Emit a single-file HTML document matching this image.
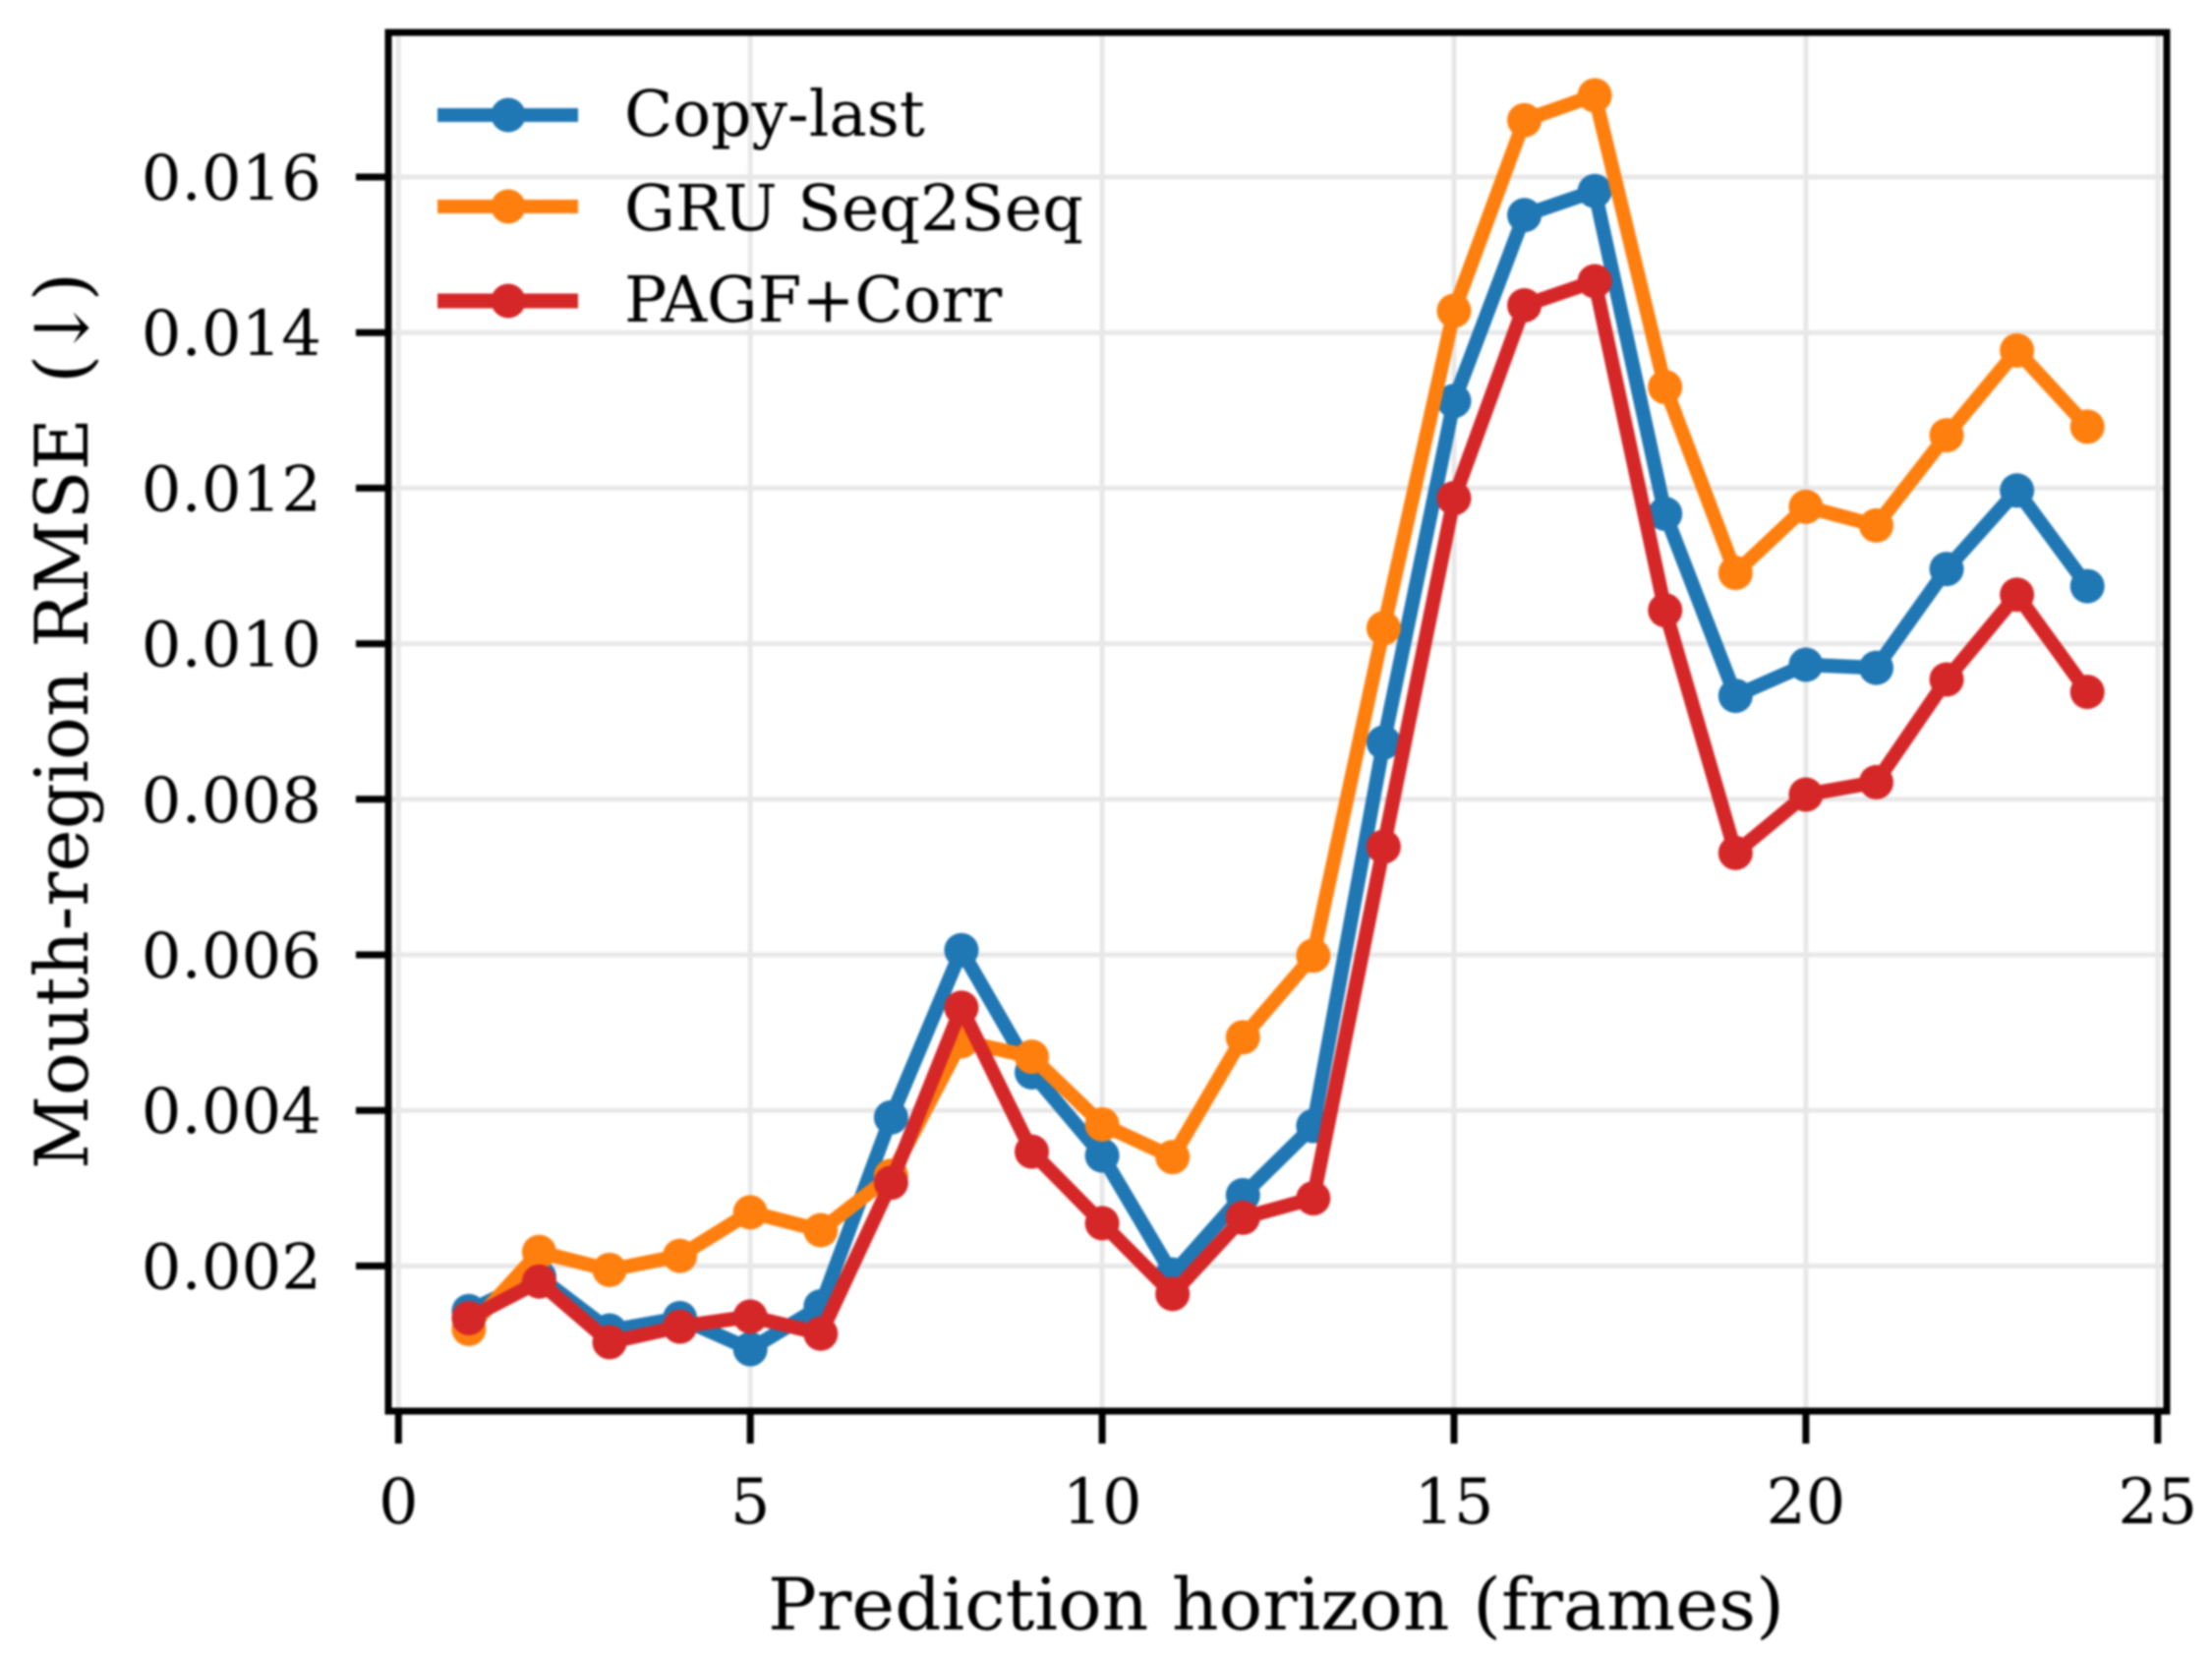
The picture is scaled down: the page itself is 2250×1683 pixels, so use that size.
<!DOCTYPE html>
<html lang="en">
<head>
<meta charset="utf-8">
<title>Mouth-region RMSE by prediction horizon</title>
<style>
html,body{margin:0;padding:0;background:#fff;width:2250px;height:1683px;overflow:hidden}
svg{display:block;filter:blur(1px)}
text{font-family:"DejaVu Serif","Liberation Serif",serif;fill:#000}
</style>
</head>
<body>
<svg id="chart" xmlns="http://www.w3.org/2000/svg" width="2250" height="1683" viewBox="0 0 2250 1683">
  <rect x="0" y="0" width="2250" height="1683" fill="#ffffff"/>
  <g id="grid"></g>
  <g id="series"></g>
  <rect x="395" y="33" width="1809" height="1402" fill="none" stroke="#000" stroke-width="7"/>
  <g id="ticks"></g>
  <text x="1298" y="1657" font-size="73" text-anchor="middle" textLength="1034" lengthAdjust="spacingAndGlyphs">Prediction horizon (frames)</text>
  <text transform="translate(89,1189) rotate(-90)" font-size="75" textLength="764" lengthAdjust="spacingAndGlyphs">Mouth-region RMSE</text>
  <text transform="translate(89,390) rotate(-90)" font-size="75" textLength="113" lengthAdjust="spacing">(↓)</text>
  <g id="legend">
    <g>
      <line x1="445" y1="117" x2="588" y2="117" stroke="#1f77b4" stroke-width="14"/>
      <circle cx="517" cy="117" r="17.5" fill="#1f77b4"/>
      <text x="635" y="138" font-size="64.5">Copy-last</text>
    </g>
    <g>
      <line x1="445" y1="210" x2="588" y2="210" stroke="#ff7f0e" stroke-width="14"/>
      <circle cx="517" cy="210" r="17.5" fill="#ff7f0e"/>
      <text x="635" y="234" font-size="65">GRU Seq2Seq</text>
    </g>
    <g>
      <line x1="445" y1="306" x2="588" y2="306" stroke="#d62728" stroke-width="15"/>
      <circle cx="517" cy="306" r="17.5" fill="#d62728"/>
      <text x="635" y="327" font-size="64.5">PAGF+Corr</text>
    </g>
  </g>
</svg>
<script>
const horizons = [1,2,3,4,5,6,7,8,9,10,11,12,13,14,15,16,17,18,19,20,21,22,23,24];
const copyLast = [0.00142,0.00186,0.00117,0.00133,0.00093,0.00148,0.00391,0.00606,0.00449,0.00342,0.00189,0.00291,0.0038,0.00873,0.01312,0.01551,0.01582,0.01167,0.00933,0.00973,0.00969,0.01096,0.01197,0.01074];
const gruSeq2Seq = [0.00119,0.00218,0.00195,0.00213,0.00269,0.00246,0.00316,0.00489,0.00469,0.00382,0.0034,0.00494,0.00599,0.0102,0.01428,0.01673,0.01705,0.0133,0.01091,0.01176,0.01152,0.01268,0.01377,0.01279];
const pagfCorr = [0.00133,0.0018,0.00102,0.00122,0.00135,0.00113,0.00307,0.00532,0.00347,0.00255,0.00164,0.00262,0.00287,0.00739,0.01187,0.01435,0.01466,0.01043,0.00731,0.00806,0.00822,0.00954,0.01063,0.00938];
const xTicks = [0,5,10,15,20,25];
const yTicks = [0.002,0.004,0.006,0.008,0.01,0.012,0.014,0.016];
const yTickLabels = ["0.002","0.004","0.006","0.008","0.010","0.012","0.014","0.016"];

const NS = "http://www.w3.org/2000/svg";
function xScale(v){ return 405.3 + v * 71.58; }
function yScale(v){ return 180 + (0.016 - v) / 0.002 * 158.2; }
function make(tag, attrs, parent){
  const el = document.createElementNS(NS, tag);
  for (const k in attrs) el.setAttribute(k, attrs[k]);
  parent.appendChild(el);
  return el;
}
const gridG = document.getElementById("grid");
const tickG = document.getElementById("ticks");
const seriesG = document.getElementById("series");

xTicks.forEach(function(t){
  const px = xScale(t);
  const g = make("line", {x1:px, y1:33, x2:px, y2:1435, stroke:"#e8e8e8", "stroke-width":5}, gridG);
  
  
  const m = make("line", {x1:px, y1:1435, x2:px, y2:1468, stroke:"#000", "stroke-width":7}, tickG);
  
  
  const l = make("text", {x:px, y:1549, "font-size":63.5, "text-anchor":"middle"}, tickG);
  l.textContent = String(t);
  
  
});
yTicks.forEach(function(t, i){
  const py = yScale(t);
  const g = make("line", {x1:395, y1:py, x2:2204, y2:py, stroke:"#e8e8e8", "stroke-width":5}, gridG);
  
  
  const m = make("line", {x1:362, y1:py, x2:395, y2:py, stroke:"#000", "stroke-width":7}, tickG);
  
  
  const l = make("text", {x:327, y:py + 23, "font-size":64, "text-anchor":"end"}, tickG);
  l.textContent = yTickLabels[i];
  
  
});

function drawSeries(values, color, key){
  const pts = values.map(function(v, i){ return xScale(horizons[i]) + "," + yScale(v); }).join(" ");
  const line = make("polyline", {points:pts, fill:"none", stroke:color, "stroke-width":14.5, "stroke-linejoin":"round", "stroke-linecap":"round"}, seriesG);
  
  
  values.forEach(function(v, i){
    const c = make("circle", {cx:xScale(horizons[i]), cy:yScale(v), r:17.5, fill:color}, seriesG);
    
    
  });
}
drawSeries(copyLast, "#1f77b4", "copy-last");
drawSeries(gruSeq2Seq, "#ff7f0e", "gru-seq2seq");
drawSeries(pagfCorr, "#d62728", "pagf-corr");
</script>
</body>
</html>
